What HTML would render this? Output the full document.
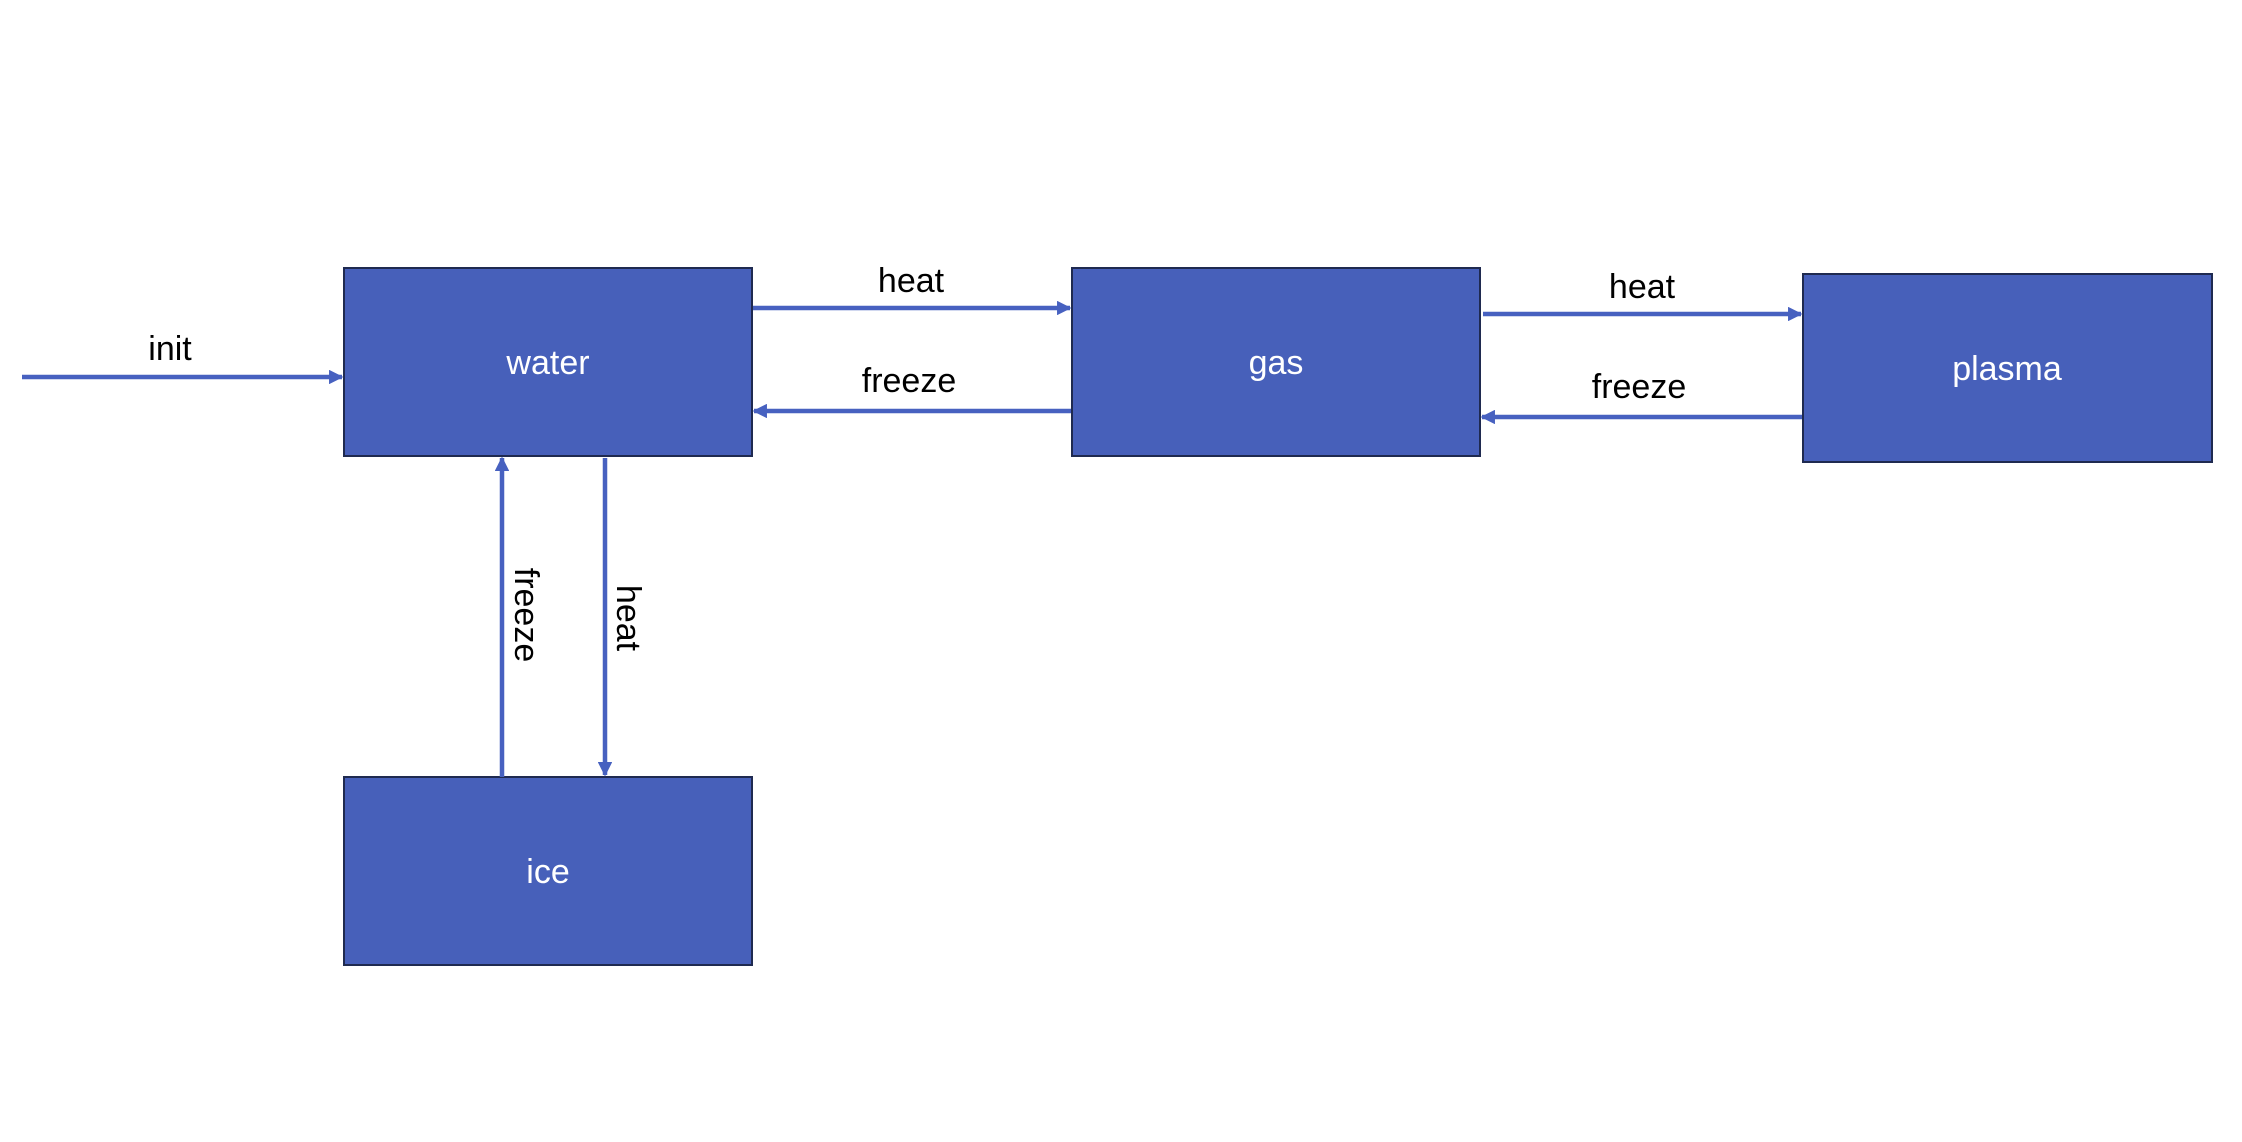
<!DOCTYPE html>
<html><head><meta charset="utf-8"><style>
html,body{margin:0;padding:0;background:#fff;}
body{width:2242px;height:1142px;overflow:hidden;position:relative;}
</style></head><body>
<svg width="2242" height="1142" viewBox="0 0 2242 1142" xmlns="http://www.w3.org/2000/svg" style="position:absolute;left:0;top:0">
<defs>
<marker id="a" viewBox="0 0 10 10" refX="9" refY="5" markerWidth="3.2" markerHeight="3.2" orient="auto" markerUnits="strokeWidth">
<path d="M0,0 L10,5 L0,10 z" fill="#4761C0"/>
</marker>
</defs>
<g fill="#4760BA" stroke="#1F2A50" stroke-width="2">
<rect x="344" y="268" width="408" height="188"/>
<rect x="1072" y="268" width="408" height="188"/>
<rect x="1803" y="274" width="409" height="188"/>
<rect x="344" y="777" width="408" height="188"/>
</g>
<g stroke="#4761C0" stroke-width="4.5" fill="none" marker-end="url(#a)">
<line x1="22" y1="377" x2="342" y2="377"/>
<line x1="753" y1="308" x2="1070" y2="308"/>
<line x1="1071" y1="411" x2="754" y2="411"/>
<line x1="1483" y1="314" x2="1801" y2="314"/>
<line x1="1802" y1="417" x2="1482" y2="417"/>
<line x1="502" y1="777" x2="502" y2="458"/>
<line x1="605" y1="458" x2="605" y2="775"/>
</g>
<g font-family="Liberation Sans, sans-serif" font-size="34" text-anchor="middle" dominant-baseline="central">
<g fill="#fff">
<text x="548" y="363">water</text>
<text x="1276" y="363">gas</text>
<text x="2007" y="369">plasma</text>
<text x="548" y="872">ice</text>
</g>
<g fill="#000">
<text x="170" y="349">init</text>
<text x="911" y="281">heat</text>
<text x="909" y="381">freeze</text>
<text x="1642" y="287">heat</text>
<text x="1639" y="387">freeze</text>
<text x="0" y="0" transform="translate(526 615) rotate(90)">freeze</text>
<text x="0" y="0" transform="translate(628 618) rotate(90)">heat</text>
</g>
</g>
</svg>
</body></html>
